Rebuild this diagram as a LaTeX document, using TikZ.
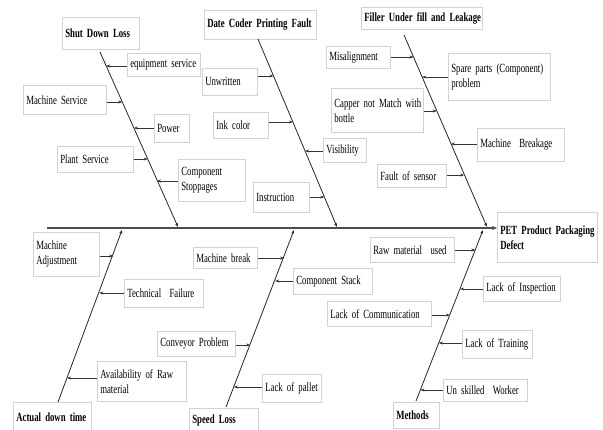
\documentclass[tikz,border=0pt]{standalone}
\usepackage{fontspec}
\setmainfont{Liberation Serif}[FakeStretch=0.7]
\usetikzlibrary{arrows.meta}
\begin{document}
\begin{tikzpicture}[x=1pt,y=-1pt,
  cbox/.style={draw=gray!35, line width=0.6pt, anchor=north west, align=left,
    inner xsep=3pt, inner ysep=1pt, font=\fontsize{12.5}{15}\selectfont},
  tbox/.style={cbox, font=\fontsize{12.5}{15}\selectfont\bfseries},
  bone/.style={draw=black!85, line width=0.8pt, -{Stealth[length=4pt,width=3pt]}},
  carr/.style={draw=black!80, line width=0.6pt, -{Stealth[length=4pt,width=3pt]}},
  spine/.style={draw=black!70, line width=1.6pt, -{Stealth[length=5pt,width=4pt]}}]
\useasboundingbox (0,0) rectangle (603,430);

% titles
\node[tbox, text width=71pt, minimum height=32pt] (shut) at (62,17) {\mbox{Shut Down Loss}};
\node[tbox, text width=106pt, minimum height=29pt] (date) at (204,10) {\mbox{Date Coder Printing Fault}};
\node[tbox, text width=115pt, minimum height=22pt] (fill) at (361,7) {\mbox{Filler Under fill and Leakage}};
\node[tbox, text width=94pt, minimum height=50pt] (pet) at (497,212) {\mbox{PET Product Packaging}\\Defect};
\node[tbox, text width=72pt, minimum height=30pt] (adt) at (13,402) {\mbox{Actual down time}};
\node[tbox, text width=63pt, minimum height=24pt] (speed) at (189,408) {\mbox{Speed Loss}};
\node[tbox, text width=40pt, minimum height=26pt] (meth) at (393,402) {Methods};

% spine
\coordinate (sp0) at (47,228);
\draw[spine] (sp0) -- (sp0 -| pet.west);

% bone ends
\coordinate (ta) at (100,52);  \coordinate (ba) at (178,227);
\coordinate (tb) at (258,39);  \coordinate (bb) at (337,227);
\coordinate (tc) at (404,35);  \coordinate (bc) at (487,227);
\coordinate (bd) at (58,402);  \coordinate (td) at (122,230);
\coordinate (be) at (226,407); \coordinate (te) at (294,230);
\coordinate (bf) at (416,401); \coordinate (tf) at (483,230);
\draw[bone] (ta) -- (ba);
\draw[bone] (tb) -- (bb);
\draw[bone] (tc) -- (bc);
\draw[bone] (bd) -- (td);
\draw[bone] (be) -- (te);
\draw[bone] (bf) -- (tf);

% Shut Down Loss causes
\node[cbox, text width=67pt, minimum height=23pt] (a1b) at (127,53) {\mbox{equipment service}};
\node[cbox, text width=77pt, minimum height=29pt] (a2b) at (23,85) {\mbox{Machine Service}};
\node[cbox, text width=29pt, minimum height=28pt] (a3b) at (154,114) {Power};
\node[cbox, text width=70pt, minimum height=26pt] (a4b) at (57,146) {\mbox{Plant Service}};
\node[cbox, text width=61pt, minimum height=42pt] (a5b) at (178,159) {Component\\Stoppages};
\coordinate (a1) at (106.2,66);
\coordinate (a2) at (122.3,102);
\coordinate (a3) at (133.9,128);
\coordinate (a4) at (147.7,159);
\coordinate (a5) at (157,181);
\draw[carr] (a1 -| a1b.west) -- (a1);
\draw[carr] (a2 -| a2b.east) -- (a2);
\draw[carr] (a3 -| a3b.west) -- (a3);
\draw[carr] (a4 -| a4b.east) -- (a4);
\draw[carr] (a5 -| a5b.west) -- (a5);

% Date Coder causes
\node[cbox, text width=49pt, minimum height=27pt] (b1b) at (202,68) {Unwritten};
\node[cbox, text width=49pt, minimum height=26pt] (b2b) at (213,112) {\mbox{Ink color}};
\node[cbox, text width=37pt, minimum height=24pt] (b3b) at (323,138) {Visibility};
\node[cbox, text width=50pt, minimum height=30pt] (b4b) at (253,182) {Instruction};
\coordinate (b1) at (273.5,76);
\coordinate (b2) at (292.9,122);
\coordinate (b3) at (305.1,151);
\coordinate (b4) at (324.4,197);
\draw[carr] (b1 -| b1b.east) -- (b1);
\draw[carr] (b2 -| b2b.east) -- (b2);
\draw[carr] (b3 -| b3b.west) -- (b3);
\draw[carr] (b4 -| b4b.east) -- (b4);

% Filler causes
\node[cbox, text width=58pt, minimum height=22pt] (c1b) at (326,46) {Misalignment};
\node[cbox, text width=96pt, minimum height=47pt] (c2b) at (448,53) {\mbox{Spare parts (Component)}\\problem};
\node[cbox, text width=86pt, minimum height=44pt] (c3b) at (331,88) {\mbox{Capper not Match with}\\bottle};
\node[cbox, text width=81pt, minimum height=33pt] (c4b) at (477,128) {\mbox{Machine\ \ Breakage}};
\node[cbox, text width=63pt, minimum height=23pt] (c5b) at (377,164) {\mbox{Fault of sensor}};
\coordinate (c1) at (413.5,57);
\coordinate (c2) at (422.1,77);
\coordinate (c3) at (436.7,111);
\coordinate (c4) at (450.9,144);
\coordinate (c5) at (464.2,175);
\draw[carr] (c1 -| c1b.east) -- (c1);
\draw[carr] (c2 -| c2b.west) -- (c2);
\draw[carr] (c3 -| c3b.east) -- (c3);
\draw[carr] (c4 -| c4b.west) -- (c4);
\draw[carr] (c5 -| c5b.east) -- (c5);

% Actual down time causes
\node[cbox, text width=60pt, minimum height=44pt] (d1b) at (33,232) {Machine\\Adjustment};
\node[cbox, text width=73pt, minimum height=28pt] (d2b) at (124,279) {\mbox{Technical\ \ Failure}};
\node[cbox, text width=83pt, minimum height=40pt] (d3b) at (97,361) {\mbox{Availability of Raw}\\material};
\coordinate (d1) at (113.3,256);
\coordinate (d2) at (99.3,293);
\coordinate (d3) at (67.1,378);
\draw[carr] (d1 -| d1b.east) -- (d1);
\draw[carr] (d2 -| d2b.west) -- (d2);
\draw[carr] (d3 -| d3b.west) -- (d3);

% Speed Loss causes
\node[cbox, text width=58pt, minimum height=21pt] (e1b) at (193,247) {\mbox{Machine break}};
\node[cbox, text width=73pt, minimum height=26pt] (e2b) at (293,268) {\mbox{Component Stack}};
\node[cbox, text width=72pt, minimum height=25pt] (e3b) at (157,331) {\mbox{Conveyor Problem}};
\node[cbox, text width=53pt, minimum height=28pt] (e4b) at (262,374) {\mbox{Lack of pallet}};
\coordinate (e1) at (284.2,258);
\coordinate (e2) at (275.2,281);
\coordinate (e3) at (250.2,345);
\coordinate (e4) at (233.8,387);
\draw[carr] (e1 -| e1b.east) -- (e1);
\draw[carr] (e2 -| e2b.west) -- (e2);
\draw[carr] (e3 -| e3b.east) -- (e3);
\draw[carr] (e4 -| e4b.west) -- (e4);

% Methods causes
\node[cbox, text width=78pt, minimum height=25pt] (f1b) at (370,237) {\mbox{Raw material\ \ used}};
\node[cbox, text width=71pt, minimum height=25pt] (f2b) at (483,276) {\mbox{Lack of Inspection}};
\node[cbox, text width=98pt, minimum height=25pt] (f3b) at (327,301) {\mbox{Lack of Communication}};
\node[cbox, text width=64pt, minimum height=28pt] (f4b) at (462,330) {\mbox{Lack of Training}};
\node[cbox, text width=78pt, minimum height=22pt] (f5b) at (443,379) {\mbox{Un skilled\ \ Worker}};
\coordinate (f1) at (475.5,250);
\coordinate (f2) at (460.1,289);
\coordinate (f3) at (449.9,315);
\coordinate (f4) at (438.9,343);
\coordinate (f5) at (420.4,390);
\draw[carr] (f1 -| f1b.east) -- (f1);
\draw[carr] (f2 -| f2b.west) -- (f2);
\draw[carr] (f3 -| f3b.east) -- (f3);
\draw[carr] (f4 -| f4b.west) -- (f4);
\draw[carr] (f5 -| f5b.west) -- (f5);
\end{tikzpicture}
\end{document}
